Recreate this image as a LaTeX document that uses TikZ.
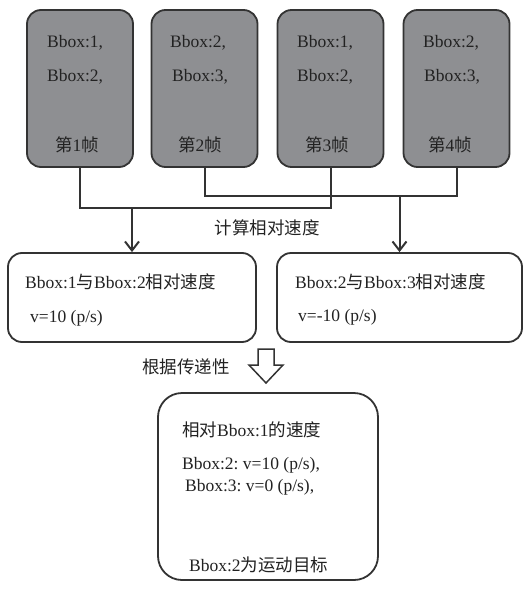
\documentclass[tikz,border=0pt]{standalone}
\usepackage{fontspec}
\setmainfont{Liberation Serif}
\newfontfamily\zhfont{Noto Sans CJK SC}
\newcommand\zh[1]{{\zhfont #1}}
\usetikzlibrary{arrows.meta}
\definecolor{boxgray}{HTML}{8E8F92}
\definecolor{linegray}{HTML}{333333}
\definecolor{txt}{HTML}{222222}
\begin{document}
\begin{tikzpicture}[x=1pt,y=-1pt,
  font=\fontsize{17.5}{20}\selectfont,
  frame/.style={draw=linegray, line width=1.8pt, fill=boxgray, rounded corners=14pt,
    minimum width=106pt, minimum height=157pt, inner sep=0pt},
  result/.style={draw=linegray, line width=1.8pt, fill=white, rounded corners=14pt,
    minimum height=89pt, inner sep=0pt},
  txt/.style={anchor=west, inner sep=0pt, text=txt},
  link/.style={draw=linegray, line width=2pt},
  arr/.style={link, -{Straight Barb[length=9pt,width=14pt,line width=2pt]}},
  hollow/.style={draw=linegray, line width=1.5pt, fill=white, line join=miter}]
\useasboundingbox (0,0) rectangle (527,589);
% frames
\node[frame] (f1) at (80,88.5) {};
\node[frame] (f2) at (204.5,88.5) {};
\node[frame] (f3) at (330.5,88.5) {};
\node[frame] (f4) at (456.5,88.5) {};
\node[txt] (f1a) at (47,43) {Bbox:1,};
\node[txt] (f1b) at (47,77) {Bbox:2,};
\node[txt] (f1c) at (55,145) {\zh{第}1\zh{帧}};
\node[txt] (f2a) at (170,43) {Bbox:2,};
\node[txt] (f2b) at (172,77) {Bbox:3,};
\node[txt] (f2c) at (178,145) {\zh{第}2\zh{帧}};
\node[txt] (f3a) at (297,43) {Bbox:1,};
\node[txt] (f3b) at (297,77) {Bbox:2,};
\node[txt] (f3c) at (305,145) {\zh{第}3\zh{帧}};
\node[txt] (f4a) at (423,43) {Bbox:2,};
\node[txt] (f4b) at (424,77) {Bbox:3,};
\node[txt] (f4c) at (428,145) {\zh{第}4\zh{帧}};
% results
\node[result, minimum width=248pt] (m1) at (132,297.5) {};
\node[result, minimum width=245pt] (m2) at (399.5,297.5) {};
\node[txt] (m1a) at (25,282) {Bbox:1\zh{与}Bbox:2\zh{相对速度}};
\node[txt] (m1b) at (30,318) {v=10 (p/s)};
\node[txt] (m2a) at (295,282) {Bbox:2\zh{与}Bbox:3\zh{相对速度}};
\node[txt] (m2b) at (298,317) {v=-10 (p/s)};
% connectors
\coordinate (ja) at (133,208);
\coordinate (jb) at (400,196);
\draw[link] (f1.south) |- (f3.south |- ja) -- (f3.south);
\draw[link] (f2.south) |- (f4.south |- jb) -- (f4.south);
\draw[arr] (m1.north |- ja) -- (m1.north);
\draw[arr] (m2.north |- jb) -- (m2.north);
\node[inner sep=0pt, text=txt] (calc) at (267,228) {\zh{计算相对速度}};
% hollow arrow
\draw[hollow] (258,349) -- (274,349) -- (274,365) -- (283,365) -- (266,383)
  -- (249,365) -- (258,365) -- cycle;
\node[inner sep=0pt, text=txt] (trans) at (186,367) {\zh{根据传递性}};
% bottom
\node[result, minimum width=220pt, minimum height=187pt, rounded corners=24pt] (b) at (268,486.5) {};
\node[txt] (b1) at (182,430) {\zh{相对}Bbox:1\zh{的速度}};
\node[txt] (b2) at (182,465) {Bbox:2:\ v=10 (p/s),};
\node[txt] (b3) at (185,487) {Bbox:3:\ v=0 (p/s),};
\node[txt] (b4) at (189,565) {Bbox:2\zh{为运动目标}};
\end{tikzpicture}
\end{document}
